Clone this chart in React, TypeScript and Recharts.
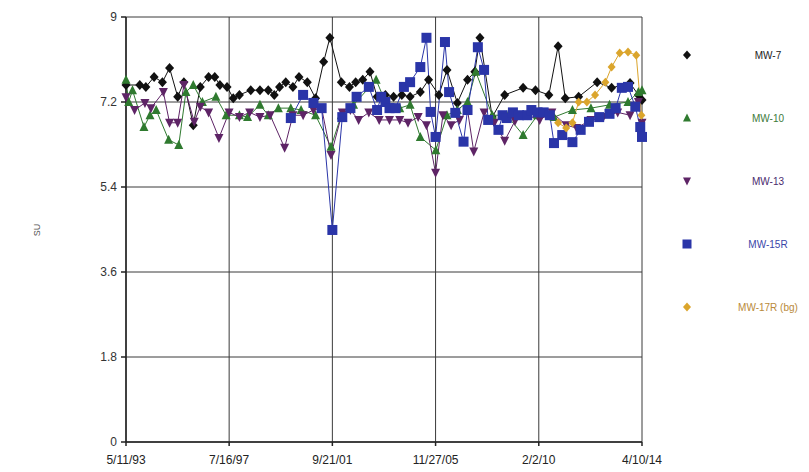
import React from "react"
import { LineChart, Line, XAxis, YAxis, CartesianGrid } from "recharts"

// sample dates and pH values (SU) per well
const mw7: [string, number][] = [
  ["1993-05-11", 7.56], ["1993-12-01", 7.56], ["1994-03-01", 7.52], ["1994-07-01", 7.73],
  ["1994-11-01", 7.62], ["1995-02-15", 7.92], ["1995-06-15", 7.31], ["1995-09-15", 7.62],
  ["1996-02-01", 6.71], ["1996-05-15", 7.52], ["1996-09-15", 7.73], ["1996-12-15", 7.73],
  ["1997-03-01", 7.56], ["1997-06-15", 7.52], ["1997-09-15", 7.28], ["1997-12-15", 7.35],
  ["1998-06-01", 7.45], ["1998-10-15", 7.45], ["1999-02-15", 7.45], ["1999-05-15", 7.35],
  ["1999-08-01", 7.52], ["1999-11-01", 7.62], ["2000-02-15", 7.52], ["2000-05-15", 7.73],
  ["2000-09-15", 7.62], ["2001-01-15", 7.28], ["2001-05-15", 8.05], ["2001-08-15", 8.56],
  ["2002-02-01", 7.62], ["2002-06-01", 7.52], ["2002-09-01", 7.62], ["2002-12-15", 7.67],
  ["2003-04-01", 7.84], ["2003-07-15", 7.31], ["2003-11-15", 7.35], ["2004-03-15", 7.31],
  ["2004-07-15", 7.35], ["2004-11-15", 7.31], ["2005-04-15", 7.41], ["2005-08-15", 7.67],
  ["2006-01-15", 7.35], ["2006-05-15", 7.88], ["2006-10-15", 7.18], ["2007-03-15", 7.67],
  ["2007-07-01", 7.84], ["2007-09-15", 8.56], ["2008-03-15", 6.88], ["2008-09-15", 7.35],
  ["2009-06-15", 7.5], ["2009-12-15", 7.45], ["2010-07-01", 7.35], ["2010-11-15", 8.38],
  ["2011-03-01", 7.28], ["2011-09-15", 7.31], ["2012-06-15", 7.62], ["2013-01-15", 7.5],
  ["2013-10-15", 7.6], ["2014-02-15", 7.35], ["2014-04-10", 7.24],
]

const mw10: [string, number][] = [
  ["1993-05-11", 7.67], ["1993-06-20", 7.2], ["1993-08-15", 7.45], ["1994-02-01", 6.67],
  ["1994-05-01", 6.92], ["1994-08-01", 7.03], ["1995-02-01", 6.4], ["1995-07-01", 6.29],
  ["1995-10-15", 7.41], ["1996-02-01", 7.56], ["1996-06-15", 7.2], ["1997-01-01", 7.31],
  ["1997-06-01", 6.92], ["1997-12-15", 6.92], ["1998-04-15", 6.88], ["1998-10-15", 7.14],
  ["1999-02-15", 6.92], ["1999-07-15", 7.07], ["2000-01-15", 7.07], ["2000-06-15", 7.03],
  ["2001-01-15", 6.92], ["2001-09-01", 6.25], ["2002-02-01", 6.92], ["2002-08-01", 7.14],
  ["2003-07-01", 7.67], ["2003-11-15", 7.2], ["2004-06-15", 7.07], ["2004-11-15", 7.14],
  ["2005-04-15", 6.46], ["2005-12-01", 6.18], ["2006-05-15", 6.92], ["2006-10-15", 7.03],
  ["2007-03-15", 7.2], ["2007-07-15", 7.84], ["2008-03-15", 6.92], ["2008-10-15", 6.92],
  ["2009-06-15", 6.5], ["2010-01-15", 6.92], ["2010-09-15", 6.88], ["2011-06-15", 7.03],
  ["2012-03-15", 7.07], ["2012-12-15", 7.14], ["2013-09-15", 7.2], ["2014-02-15", 7.41],
  ["2014-04-10", 7.45],
]

const mw13: [string, number][] = [
  ["1993-05-11", 7.3], ["1993-09-15", 7.03], ["1994-02-15", 7.18], ["1994-05-15", 7.07],
  ["1994-11-15", 7.41], ["1995-02-15", 6.76], ["1995-06-15", 6.76], ["1995-09-15", 7.56],
  ["1996-02-15", 6.78], ["1996-05-15", 7.1], ["1996-09-15", 6.98], ["1997-02-15", 6.44],
  ["1997-07-15", 6.98], ["1997-12-15", 6.88], ["1998-05-15", 6.98], ["1998-10-15", 6.88],
  ["1999-03-15", 6.92], ["1999-10-15", 6.23], ["2000-02-15", 6.92], ["2000-07-15", 6.92],
  ["2000-12-15", 7.03], ["2001-04-15", 7.07], ["2001-09-01", 6.08], ["2002-02-15", 6.98],
  ["2002-06-15", 7.03], ["2002-10-15", 6.82], ["2003-03-15", 6.98], ["2003-08-15", 6.82],
  ["2004-01-15", 6.82], ["2004-06-15", 6.82], ["2004-10-15", 6.76], ["2005-03-15", 6.88],
  ["2005-07-15", 6.71], ["2005-11-27", 5.7], ["2006-03-15", 6.92], ["2006-07-15", 6.71],
  ["2006-11-15", 6.82], ["2007-03-15", 7.03], ["2007-06-15", 6.15], ["2007-11-15", 6.98],
  ["2008-04-15", 6.76], ["2008-09-15", 6.38], ["2009-02-15", 6.8], ["2009-08-15", 6.92],
  ["2010-02-15", 6.82], ["2010-08-15", 6.98], ["2011-03-15", 6.71], ["2011-08-15", 6.65],
  ["2012-03-15", 6.82], ["2012-09-15", 6.88], ["2013-04-15", 6.98], ["2013-10-15", 6.92],
  ["2014-02-15", 7.2], ["2014-04-10", 6.76],
]

const mw15r: [string, number][] = [
  ["2000-01-15", 6.86], ["2000-07-15", 7.35], ["2000-12-15", 7.18], ["2001-04-15", 7.07],
  ["2001-09-21", 4.49], ["2002-02-15", 6.88], ["2002-06-15", 7.07], ["2002-09-15", 7.31],
  ["2003-03-15", 7.52], ["2003-07-15", 7.03], ["2003-09-15", 7.31], ["2003-11-15", 7.2],
  ["2004-01-15", 7.07], ["2004-04-15", 7.07], ["2004-08-15", 7.52], ["2004-11-15", 7.62],
  ["2005-04-15", 7.94], ["2005-07-15", 8.56], ["2005-09-15", 6.99], ["2005-11-27", 6.46],
  ["2006-04-15", 8.47], ["2006-06-15", 7.41], ["2006-09-15", 6.97], ["2007-01-15", 6.36],
  ["2007-03-15", 7.03], ["2007-08-15", 8.36], ["2007-11-15", 7.88], ["2008-01-15", 6.82],
  ["2008-06-15", 6.61], ["2008-08-15", 6.92], ["2008-10-15", 6.86], ["2009-01-15", 6.98],
  ["2009-04-15", 6.92], ["2009-08-15", 6.92], ["2009-10-15", 7.03], ["2010-01-15", 6.98],
  ["2010-04-15", 6.98], ["2010-07-15", 6.92], ["2010-09-15", 6.33], ["2011-01-15", 6.5],
  ["2011-06-15", 6.35], ["2011-10-15", 6.61], ["2012-02-15", 6.78], ["2012-07-15", 6.88],
  ["2012-12-15", 6.95], ["2013-03-15", 7.07], ["2013-06-15", 7.5], ["2013-09-15", 7.52],
  ["2014-01-01", 7.1], ["2014-03-15", 6.67], ["2014-04-10", 6.46],
]

const mw17r: [string, number][] = [
  ["2010-11-15", 6.76], ["2011-03-15", 6.65], ["2011-06-15", 6.76], ["2011-09-15", 7.2],
  ["2012-01-15", 7.2], ["2012-05-15", 7.35], ["2012-10-15", 7.62], ["2013-01-15", 7.94],
  ["2013-05-15", 8.24], ["2013-09-15", 8.26], ["2014-01-15", 8.19], ["2014-04-01", 6.92],
]

const xTickDates = ["1993-05-11", "1997-07-16", "2001-09-21", "2005-11-27", "2010-02-02", "2014-04-10"]
const yTicks = [0, 1.8, 3.6, 5.4, 7.2, 9]

const toTime = (s: string) => {
  const [y, m, d] = s.split("-").map(Number)
  return Date.UTC(y, m - 1, d)
}

const fmtDate = (v: number) => {
  const d = new Date(v)
  return `${d.getUTCMonth() + 1}/${d.getUTCDate()}/${String(d.getUTCFullYear()).slice(2)}`
}

const toRows = (arr: [string, number][]) => arr.map(([d, v]) => ({ t: toTime(d), v }))

type Shape = "diamond" | "up" | "down" | "square"

const Marker = ({ cx, cy, shape, color, r = 4 }: { cx: number; cy: number; shape: Shape; color: string; r?: number }) => {
  if (cx == null || cy == null) return null
  if (shape === "diamond")
    return <path d={`M${cx},${cy - r - 0.5}L${cx + r},${cy}L${cx},${cy + r + 0.5}L${cx - r},${cy}Z`} fill={color} />
  if (shape === "up")
    return <path d={`M${cx},${cy - r - 0.5}L${cx + r},${cy + r - 0.5}L${cx - r},${cy + r - 0.5}Z`} fill={color} />
  if (shape === "down")
    return <path d={`M${cx - r},${cy - r + 0.5}L${cx + r},${cy - r + 0.5}L${cx},${cy + r + 0.5}Z`} fill={color} />
  return <rect x={cx - r} y={cy - r} width={r * 2} height={r * 2} fill={color} />
}

const series = [
  { name: "MW-7", rows: toRows(mw7), color: "#111111", text: "#222222", shape: "diamond" as Shape, r: 4.5 },
  { name: "MW-10", rows: toRows(mw10), color: "#2f7a2f", text: "#3d7a3a", shape: "up" as Shape, r: 4.5 },
  { name: "MW-13", rows: toRows(mw13), color: "#5e2466", text: "#4a2a6e", shape: "down" as Shape, r: 4.5 },
  { name: "MW-15R", rows: toRows(mw15r), color: "#2a35a8", text: "#3a45a8", shape: "square" as Shape, r: 5 },
  { name: "MW-17R (bg)", rows: toRows(mw17r), color: "#dba52c", text: "#b98a3a", shape: "diamond" as Shape, r: 4 },
]

const font = "'Liberation Sans', Arial, sans-serif"

const LegendBox = () => (
  <svg width={150} height={300} style={{ position: "absolute", left: 657, top: 32 }}>
    {series.map((s, i) => (
      <g key={s.name}>
        <Marker cx={22} cy={15 + 63 * i} shape={s.shape} color={s.color} r={s.shape === "square" ? 4.5 : 4} />
        <text x={103} y={15 + 63 * i} dy="0.35em" textAnchor="middle" fontSize={10} fontFamily={font} fill={s.text}>
          {s.name}
        </text>
      </g>
    ))}
  </svg>
)

export default function App() {
  return (
    <div style={{ position: "relative", width: 800, height: 464, background: "#fff" }}>
      <LineChart width={800} height={464} margin={{ top: 9, right: 166, bottom: 4, left: 10 }}>
        <CartesianGrid stroke="#3a3a3a" strokeWidth={1} />
        <XAxis
          dataKey="t"
          type="number"
          domain={[toTime(xTickDates[0]), toTime(xTickDates[xTickDates.length - 1])]}
          ticks={xTickDates.map(toTime)}
          tickFormatter={fmtDate}
          stroke="#222"
          strokeWidth={1.5}
          tickSize={4}
          tickMargin={9}
          height={26}
          tick={{ fontSize: 12, fontFamily: font, fill: "#222" }}
        />
        <YAxis
          type="number"
          domain={[0, 9]}
          ticks={yTicks}
          stroke="#222"
          strokeWidth={1.5}
          width={108}
          tickSize={5}
          tickMargin={4}
          tick={{ fontSize: 12, fontFamily: font, fill: "#333" }}
        />
        {series.map((s) => (
          <Line
            key={s.name}
            name={s.name}
            data={s.rows}
            dataKey="v"
            stroke={s.color}
            strokeWidth={1}
            isAnimationActive={false}
            dot={(p: any) => (
              <Marker key={`${s.name}-${p.index}`} cx={p.cx} cy={p.cy} shape={s.shape} color={s.color} r={s.r} />
            )}
            activeDot={false}
          />
        ))}
      </LineChart>
      <div
        style={{
          position: "absolute",
          left: 29,
          top: 222,
          transform: "translate(-50%, -50%) rotate(-90deg)",
          fontFamily: font,
          fontSize: 9,
          color: "#555",
          lineHeight: 1,
        }}
      >
        SU
      </div>
      <LegendBox />
    </div>
  )
}
